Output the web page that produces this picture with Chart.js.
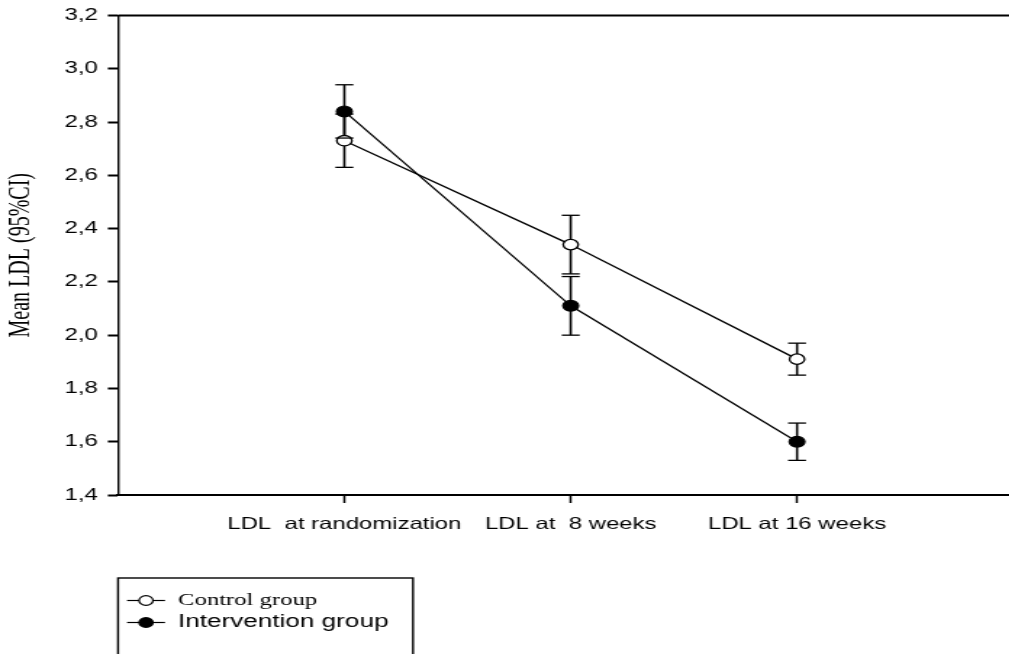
<!DOCTYPE html>
<html>
<head>
<meta charset="utf-8">
<script src="https://cdn.jsdelivr.net/npm/chart.js@4.4.0/dist/chart.umd.min.js"></script>
<style>
  html, body { margin: 0; padding: 0; background: #fff; overflow: hidden; }
  /* the figure is drawn narrow and widened horizontally */
  #wrap { position: absolute; left: 0; top: 0; width: 703px; height: 654px;
          transform: scaleX(1.45); transform-origin: 0 0; }
  #c { display: block; width: 703px; height: 654px; }
</style>
</head>
<body>
<div id="wrap"><canvas id="c" width="703" height="654"></canvas></div>
<script>
// Category labels (x positions 1, 2, 3)
const categories = ['LDL  at randomization', 'LDL at  8 weeks', 'LDL at 16 weeks'];

// Mean LDL with 95% confidence limits
const controlMean = [2.73, 2.34, 1.91];
const controlLower = [2.63, 2.23, 1.85];
const controlUpper = [2.83, 2.45, 1.97];

const interventionMean = [2.84, 2.11, 1.60];
const interventionLower = [2.74, 2.00, 1.53];
const interventionUpper = [2.94, 2.22, 1.67];

// Y axis ticks
const yTickValues = [1.4, 1.6, 1.8, 2.0, 2.2, 2.4, 2.6, 2.8, 3.0, 3.2];
const yTickLabels = ['1,4', '1,6', '1,8', '2,0', '2,2', '2,4', '2,6', '2,8', '3,0', '3,2'];

const seriesNames = ['Control group', 'Intervention group'];
const yTitle = 'Mean LDL (95%CI)';

const SANS = '"Liberation Sans", Arial, sans-serif';
const SERIF = '"Liberation Serif", "Times New Roman", serif';

const toPoints = arr => arr.map((v, i) => ({ x: i + 1, y: v }));

// Vertical stems go under the markers, caps on top
const errorBars = {
  id: 'errorBars',
  bars() {
    return [[controlLower, controlUpper], [interventionLower, interventionUpper]];
  },
  beforeDatasetsDraw(chart) {
    const { ctx, scales: { x, y } } = chart;
    ctx.save();
    ctx.strokeStyle = '#000';
    ctx.lineWidth = 1.6;
    this.bars().forEach(([lo, hi]) => lo.forEach((l, i) => {
      const px = x.getPixelForValue(i + 1);
      ctx.beginPath();
      ctx.moveTo(px, y.getPixelForValue(l));
      ctx.lineTo(px, y.getPixelForValue(hi[i]));
      ctx.stroke();
    }));
    ctx.restore();
  },
  afterDatasetsDraw(chart) {
    const { ctx, scales: { x, y } } = chart;
    const half = 6.2;
    ctx.save();
    ctx.strokeStyle = '#000';
    ctx.lineWidth = 1.3;
    this.bars().forEach(([lo, hi]) => lo.forEach((l, i) => {
      const px = x.getPixelForValue(i + 1);
      [l, hi[i]].forEach(v => {
        const py = y.getPixelForValue(v);
        ctx.beginPath();
        ctx.moveTo(px - half, py);
        ctx.lineTo(px + half, py);
        ctx.stroke();
      });
    }));
    ctx.restore();
  }
};

// Top frame line and the boxed legend underneath the axis labels
const frameAndLegend = {
  id: 'frameAndLegend',
  afterDraw(chart) {
    const { ctx, chartArea } = chart;
    ctx.save();
    ctx.strokeStyle = '#000';
    ctx.lineWidth = 2;
    ctx.beginPath();
    ctx.moveTo(chartArea.left, chartArea.top);
    ctx.lineTo(chartArea.right + 2, chartArea.top);
    ctx.stroke();

    // legend box
    const bx = 81.4, by = 578, bw = 203.4, bh = 120;
    ctx.lineWidth = 1.4;
    ctx.strokeRect(bx, by, bw, bh);

    const items = [
      { name: seriesNames[0], fill: '#fff', y: 600.5, font: '17px ' + SERIF },
      { name: seriesNames[1], fill: '#000', y: 622.5, font: '18px ' + SANS }
    ];
    items.forEach(it => {
      ctx.lineWidth = 1.2;
      ctx.beginPath();
      ctx.moveTo(87.6, it.y);
      ctx.lineTo(113.8, it.y);
      ctx.stroke();
      ctx.beginPath();
      ctx.arc(100.7, it.y, 4.8, 0, Math.PI * 2);
      ctx.fillStyle = it.fill;
      ctx.fill();
      ctx.lineWidth = 1.2;
      ctx.stroke();
      ctx.fillStyle = '#000';
      ctx.font = it.font;
      ctx.textBaseline = 'middle';
      ctx.textAlign = 'left';
      ctx.fillText(it.name, 122.8, it.y);
    });
    ctx.restore();
  }
};

new Chart(document.getElementById('c'), {
  type: 'line',
  data: {
    datasets: [
      {
        label: seriesNames[0],
        data: toPoints(controlMean),
        borderColor: '#000',
        borderWidth: 1.3,
        pointRadius: 5.2,
        pointBackgroundColor: '#fff',
        pointBorderColor: '#000',
        pointBorderWidth: 1.3,
        fill: false,
        tension: 0
      },
      {
        label: seriesNames[1],
        data: toPoints(interventionMean),
        borderColor: '#000',
        borderWidth: 1.3,
        pointRadius: 5.4,
        pointBackgroundColor: '#000',
        pointBorderColor: '#000',
        pointBorderWidth: 1.2,
        fill: false,
        tension: 0
      }
    ]
  },
  options: {
    responsive: false,
    animation: false,
    devicePixelRatio: 1,
    layout: { padding: { top: 15.5, right: 0, bottom: 0, left: 0 } },
    plugins: {
      legend: { display: false },
      tooltip: { enabled: false }
    },
    scales: {
      x: {
        type: 'linear',
        min: 0,
        max: 3.94,
        afterBuildTicks: s => { s.ticks = categories.map((c, i) => ({ value: i + 1 })); },
        afterFit: s => { s.height = 159; },
        ticks: {
          callback: v => categories[v - 1],
          font: { family: SANS, size: 16.5 },
          color: '#000',
          padding: 12,
          maxRotation: 0,
          autoSkip: false
        },
        grid: { drawOnChartArea: false, drawTicks: true, tickLength: 8, color: '#000', tickWidth: 1.5 },
        border: { display: true, color: '#000', width: 2 }
      },
      y: {
        min: 1.4,
        max: 3.2,
        afterBuildTicks: s => { s.ticks = yTickValues.map(v => ({ value: v })); },
        afterFit: s => { s.width = 81.4; },
        ticks: {
          callback: (v, i) => yTickLabels[i],
          font: { family: SANS, size: 16.5, lineHeight: 1.0 },
          color: '#000',
          padding: 7
        },
        grid: { drawOnChartArea: false, drawTicks: true, tickLength: 7, color: '#000', tickWidth: 2 },
        border: { display: true, color: '#000', width: 1.4 },
        title: {
          display: true,
          text: yTitle,
          font: { family: SERIF, size: 20 },
          color: '#000',
          padding: { top: 2.5, bottom: 0 }
        }
      }
    }
  },
  plugins: [errorBars, frameAndLegend]
});
</script>
</body>
</html>
